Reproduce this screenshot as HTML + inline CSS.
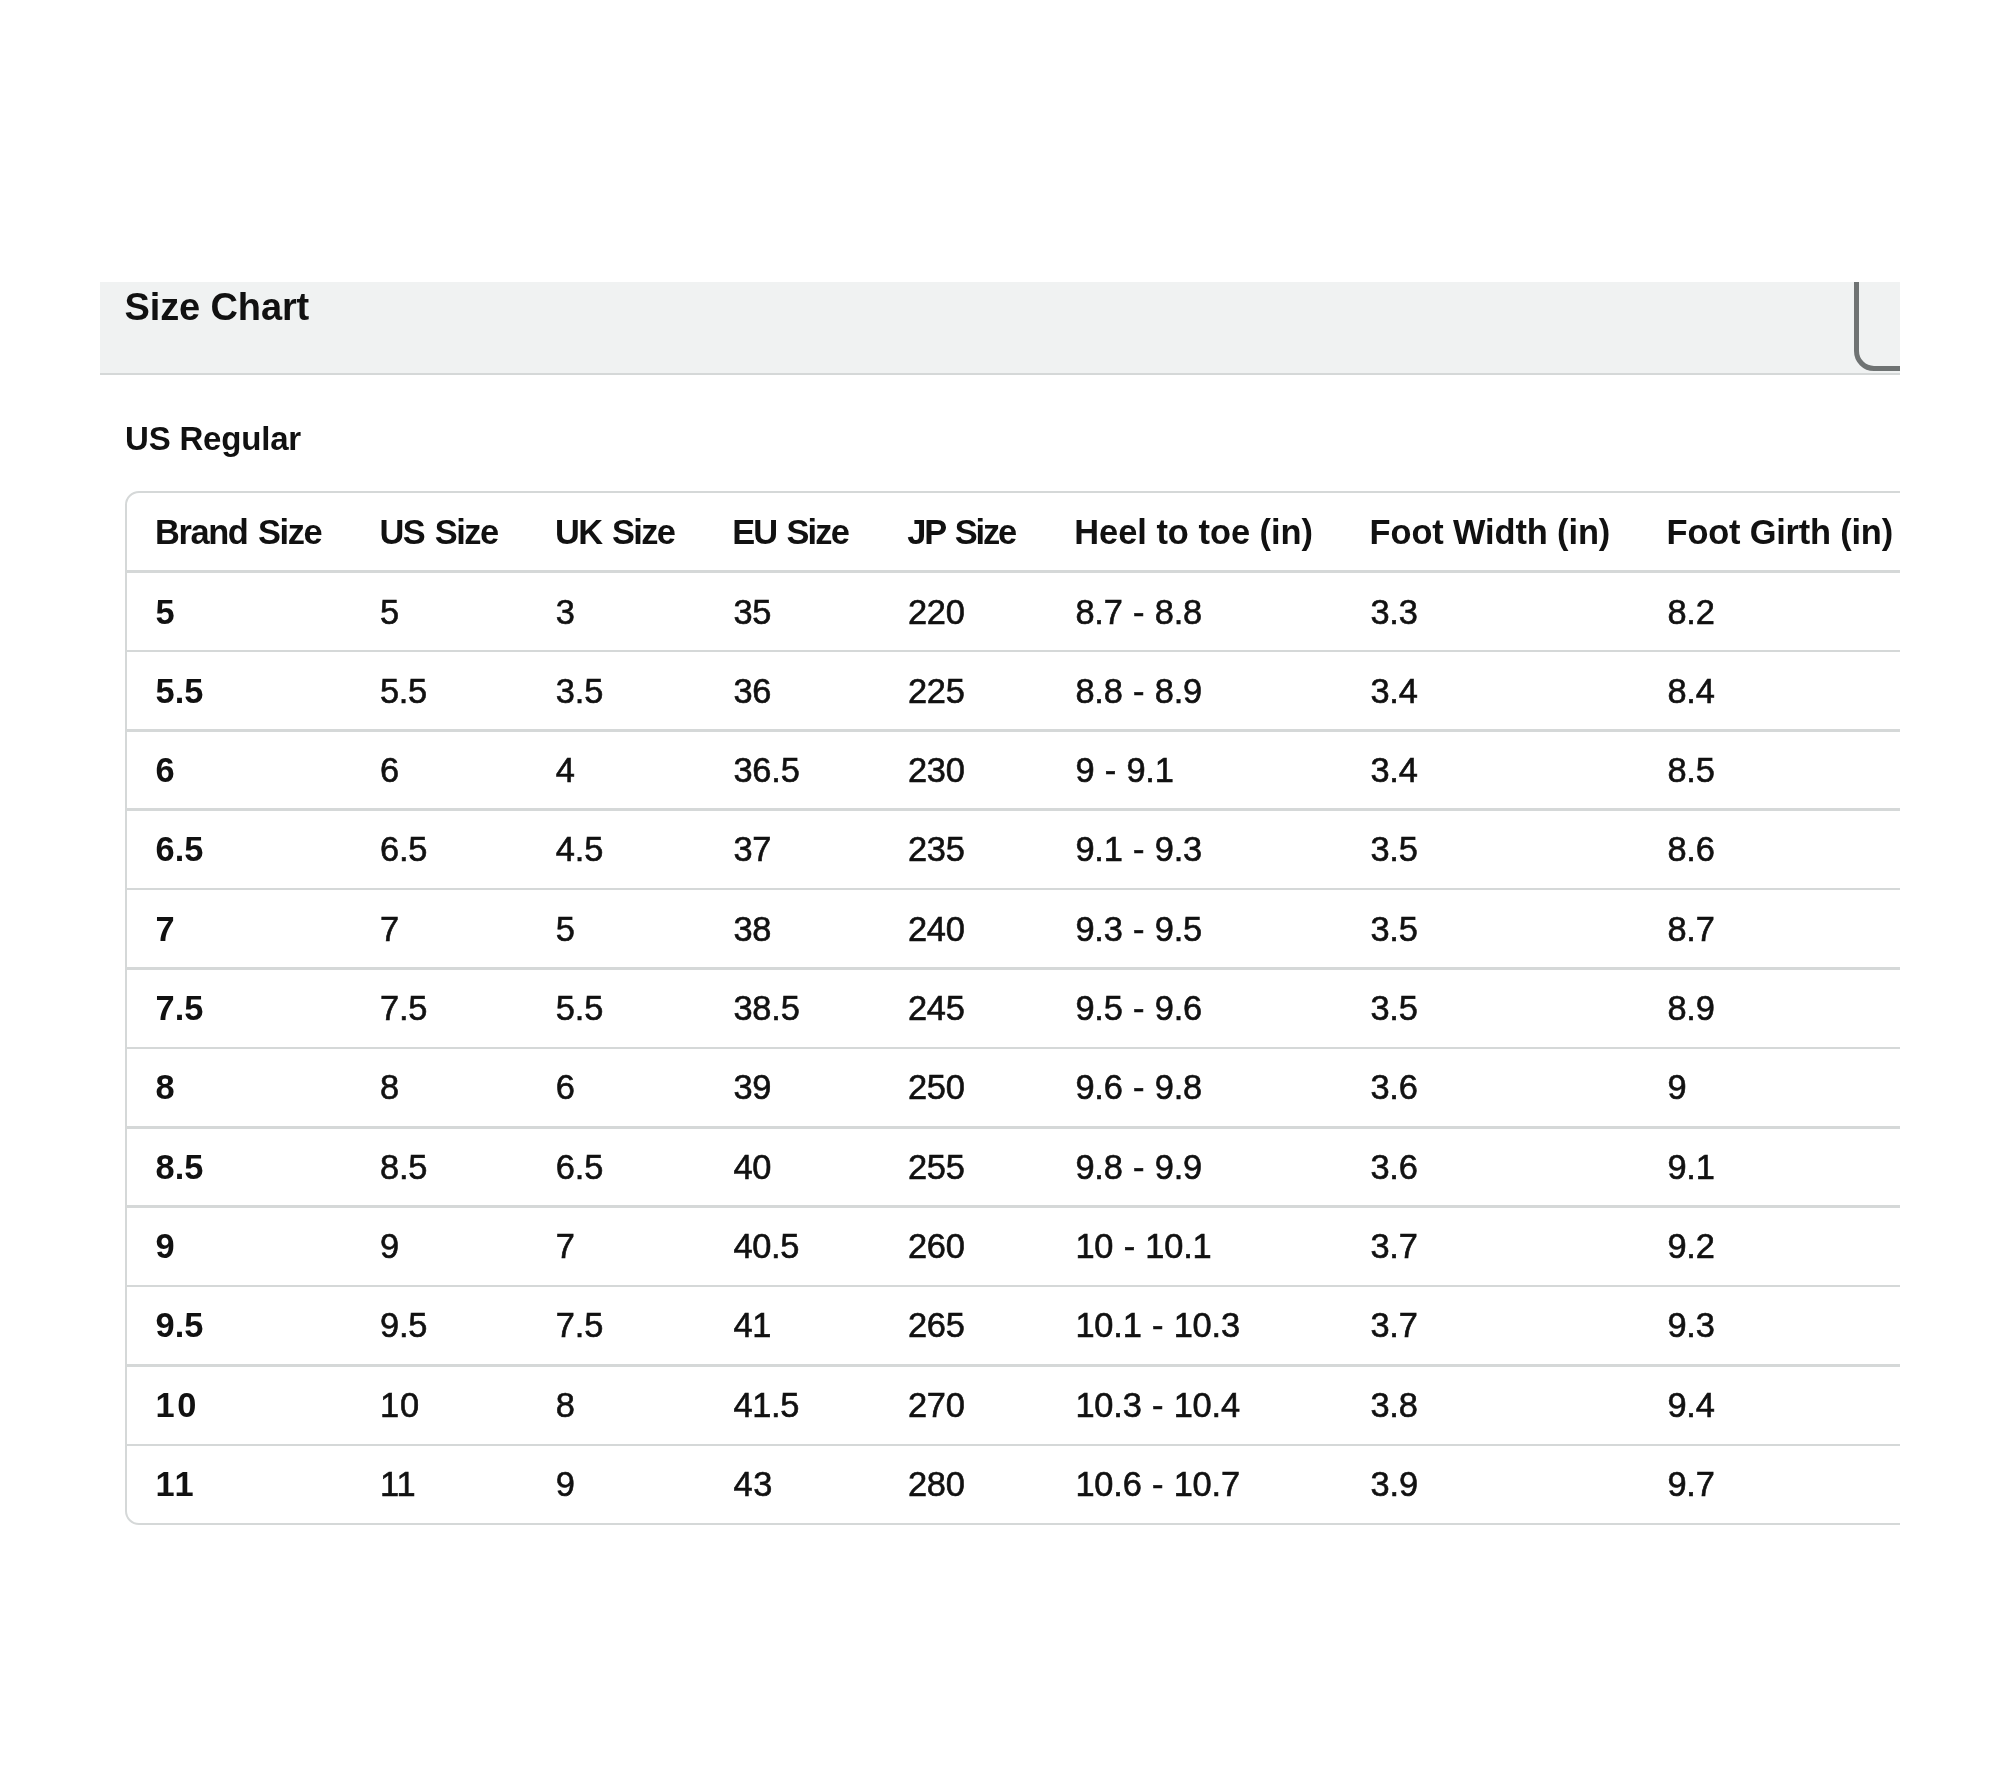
<!DOCTYPE html><html><head><meta charset='utf-8'><title>Size Chart</title><style>
*{margin:0;padding:0;box-sizing:border-box}
html,body{width:2000px;height:1778px;background:#fff;overflow:hidden}
body{position:relative;font-family:'Liberation Sans',Arial,sans-serif;color:#0f1111}
.clip{position:absolute;left:100px;top:282px;width:1800px;height:1300px;overflow:hidden;filter:blur(0.45px)}
.txt{position:absolute;left:0;top:0;width:1800px;height:1300px;filter:grayscale(1)}
.bar{position:absolute;left:0;top:0;width:1800px;height:93px;background:#f0f2f2;border-bottom:2.5px solid #d5d8d8}
.btn{position:absolute;left:1754px;top:-40px;width:200px;height:128.5px;border:5px solid #6f7373;border-radius:20px;background:#f0f2f2}
.tx{position:absolute;white-space:nowrap;line-height:1}
.t1{font-weight:bold;font-size:38px}
.t2{font-weight:bold;font-size:33px}
.tbl{position:absolute;left:24.5px;top:209px;width:1900px;height:1034px;border:2.5px solid #d5d8d8;border-radius:14px}
.sep{position:absolute;left:24.5px;width:1900px;height:2.5px;background:#d5d8d8}
.h{font-weight:bold;font-size:34.4px}
.d{font-size:34.4px;letter-spacing:-0.176px;word-spacing:1.0px;-webkit-text-stroke:0.6px #0f1111}
.b{font-weight:bold;font-size:34.4px;letter-spacing:0.03px}
</style></head><body>
<div class='clip'>
<div class='bar'><div class='btn'></div></div>
<div class='tbl'></div>
<div class='sep' style='top:288.25px'></div>
<div class='sep' style='top:367.65px'></div>
<div class='sep' style='top:447.05px'></div>
<div class='sep' style='top:526.45px'></div>
<div class='sep' style='top:605.85px'></div>
<div class='sep' style='top:685.25px'></div>
<div class='sep' style='top:764.65px'></div>
<div class='sep' style='top:844.05px'></div>
<div class='sep' style='top:923.45px'></div>
<div class='sep' style='top:1002.85px'></div>
<div class='sep' style='top:1082.25px'></div>
<div class='sep' style='top:1161.65px'></div>
<div class='txt'>
<div class='tx t1' style='left:24.5px;top:6px;letter-spacing:-0.124px'>Size Chart</div>
<div class='tx t2' style='left:25px;top:140px;letter-spacing:-0.194px'>US Regular</div>
<div class='tx h' style='left:55.00px;top:232.80px;letter-spacing:-1.401px;word-spacing:2.5px'>Brand Size</div>
<div class='tx h' style='left:279.40px;top:232.80px;letter-spacing:-1.468px;word-spacing:2.5px'>US Size</div>
<div class='tx h' style='left:455.00px;top:232.80px;letter-spacing:-1.599px;word-spacing:2.5px'>UK Size</div>
<div class='tx h' style='left:632.20px;top:232.80px;letter-spacing:-1.833px;word-spacing:2.5px'>EU Size</div>
<div class='tx h' style='left:807.20px;top:232.80px;letter-spacing:-2.133px;word-spacing:3px'>JP Size</div>
<div class='tx h' style='left:974.20px;top:232.80px;letter-spacing:0.003px;word-spacing:0px'>Heel to toe (in)</div>
<div class='tx h' style='left:1269.60px;top:232.80px;letter-spacing:-0.113px;word-spacing:0px'>Foot Width (in)</div>
<div class='tx h' style='left:1566.60px;top:232.80px;letter-spacing:-0.191px;word-spacing:0px'>Foot Girth (in)</div>
<div class='tx b' style='left:55.60px;top:312.50px'>5</div>
<div class='tx d' style='left:280.00px;top:312.50px'>5</div>
<div class='tx d' style='left:455.80px;top:312.50px'>3</div>
<div class='tx d' style='left:633.40px;top:312.50px'>35</div>
<div class='tx d' style='left:807.90px;top:312.50px;letter-spacing:-0.241px'>220</div>
<div class='tx d' style='left:975.40px;top:312.50px'>8.7 - 8.8</div>
<div class='tx d' style='left:1270.40px;top:312.50px'>3.3</div>
<div class='tx d' style='left:1567.40px;top:312.50px'>8.2</div>
<div class='tx b' style='left:55.60px;top:391.82px;letter-spacing:0.03px'>5.5</div>
<div class='tx d' style='left:280.00px;top:391.82px;letter-spacing:-0.341px'>5.5</div>
<div class='tx d' style='left:455.80px;top:391.82px'>3.5</div>
<div class='tx d' style='left:633.40px;top:391.82px'>36</div>
<div class='tx d' style='left:807.90px;top:391.82px'>225</div>
<div class='tx d' style='left:975.40px;top:391.82px'>8.8 - 8.9</div>
<div class='tx d' style='left:1270.40px;top:391.82px'>3.4</div>
<div class='tx d' style='left:1567.40px;top:391.82px'>8.4</div>
<div class='tx b' style='left:55.60px;top:471.14px'>6</div>
<div class='tx d' style='left:280.00px;top:471.14px'>6</div>
<div class='tx d' style='left:455.80px;top:471.14px'>4</div>
<div class='tx d' style='left:633.40px;top:471.14px'>36.5</div>
<div class='tx d' style='left:807.90px;top:471.14px'>230</div>
<div class='tx d' style='left:975.40px;top:471.14px'>9 - 9.1</div>
<div class='tx d' style='left:1270.40px;top:471.14px'>3.4</div>
<div class='tx d' style='left:1567.40px;top:471.14px'>8.5</div>
<div class='tx b' style='left:55.60px;top:550.46px'>6.5</div>
<div class='tx d' style='left:280.00px;top:550.46px'>6.5</div>
<div class='tx d' style='left:455.80px;top:550.46px'>4.5</div>
<div class='tx d' style='left:633.40px;top:550.46px'>37</div>
<div class='tx d' style='left:807.90px;top:550.46px'>235</div>
<div class='tx d' style='left:975.40px;top:550.46px'>9.1 - 9.3</div>
<div class='tx d' style='left:1270.40px;top:550.46px'>3.5</div>
<div class='tx d' style='left:1567.40px;top:550.46px'>8.6</div>
<div class='tx b' style='left:55.60px;top:629.78px'>7</div>
<div class='tx d' style='left:280.00px;top:629.78px'>7</div>
<div class='tx d' style='left:455.80px;top:629.78px'>5</div>
<div class='tx d' style='left:633.40px;top:629.78px'>38</div>
<div class='tx d' style='left:807.90px;top:629.78px'>240</div>
<div class='tx d' style='left:975.40px;top:629.78px'>9.3 - 9.5</div>
<div class='tx d' style='left:1270.40px;top:629.78px'>3.5</div>
<div class='tx d' style='left:1567.40px;top:629.78px'>8.7</div>
<div class='tx b' style='left:55.60px;top:709.10px'>7.5</div>
<div class='tx d' style='left:280.00px;top:709.10px'>7.5</div>
<div class='tx d' style='left:455.80px;top:709.10px'>5.5</div>
<div class='tx d' style='left:633.40px;top:709.10px'>38.5</div>
<div class='tx d' style='left:807.90px;top:709.10px'>245</div>
<div class='tx d' style='left:975.40px;top:709.10px'>9.5 - 9.6</div>
<div class='tx d' style='left:1270.40px;top:709.10px'>3.5</div>
<div class='tx d' style='left:1567.40px;top:709.10px'>8.9</div>
<div class='tx b' style='left:55.60px;top:788.42px'>8</div>
<div class='tx d' style='left:280.00px;top:788.42px'>8</div>
<div class='tx d' style='left:455.80px;top:788.42px'>6</div>
<div class='tx d' style='left:633.40px;top:788.42px'>39</div>
<div class='tx d' style='left:807.90px;top:788.42px'>250</div>
<div class='tx d' style='left:975.40px;top:788.42px'>9.6 - 9.8</div>
<div class='tx d' style='left:1270.40px;top:788.42px'>3.6</div>
<div class='tx d' style='left:1567.40px;top:788.42px'>9</div>
<div class='tx b' style='left:55.60px;top:867.74px'>8.5</div>
<div class='tx d' style='left:280.00px;top:867.74px'>8.5</div>
<div class='tx d' style='left:455.80px;top:867.74px'>6.5</div>
<div class='tx d' style='left:633.40px;top:867.74px'>40</div>
<div class='tx d' style='left:807.90px;top:867.74px'>255</div>
<div class='tx d' style='left:975.40px;top:867.74px'>9.8 - 9.9</div>
<div class='tx d' style='left:1270.40px;top:867.74px'>3.6</div>
<div class='tx d' style='left:1567.40px;top:867.74px'>9.1</div>
<div class='tx b' style='left:55.60px;top:947.06px'>9</div>
<div class='tx d' style='left:280.00px;top:947.06px'>9</div>
<div class='tx d' style='left:455.80px;top:947.06px'>7</div>
<div class='tx d' style='left:633.40px;top:947.06px;letter-spacing:-0.308px'>40.5</div>
<div class='tx d' style='left:807.90px;top:947.06px'>260</div>
<div class='tx d' style='left:975.40px;top:947.06px'>10 - 10.1</div>
<div class='tx d' style='left:1270.40px;top:947.06px'>3.7</div>
<div class='tx d' style='left:1567.40px;top:947.06px'>9.2</div>
<div class='tx b' style='left:55.60px;top:1026.38px'>9.5</div>
<div class='tx d' style='left:280.00px;top:1026.38px'>9.5</div>
<div class='tx d' style='left:455.80px;top:1026.38px'>7.5</div>
<div class='tx d' style='left:633.40px;top:1026.38px'>41</div>
<div class='tx d' style='left:807.90px;top:1026.38px'>265</div>
<div class='tx d' style='left:975.40px;top:1026.38px'>10.1 - 10.3</div>
<div class='tx d' style='left:1270.40px;top:1026.38px'>3.7</div>
<div class='tx d' style='left:1567.40px;top:1026.38px'>9.3</div>
<div class='tx b' style='left:55.60px;top:1105.70px;letter-spacing:2.63px'>10</div>
<div class='tx d' style='left:280.00px;top:1105.70px;letter-spacing:0.759px'>10</div>
<div class='tx d' style='left:455.80px;top:1105.70px'>8</div>
<div class='tx d' style='left:633.40px;top:1105.70px;letter-spacing:-0.308px'>41.5</div>
<div class='tx d' style='left:807.90px;top:1105.70px'>270</div>
<div class='tx d' style='left:975.40px;top:1105.70px'>10.3 - 10.4</div>
<div class='tx d' style='left:1270.40px;top:1105.70px'>3.8</div>
<div class='tx d' style='left:1567.40px;top:1105.70px'>9.4</div>
<div class='tx b' style='left:55.60px;top:1185.02px;letter-spacing:1.63px'>11</div>
<div class='tx d' style='left:280.00px;top:1185.02px'>11</div>
<div class='tx d' style='left:455.80px;top:1185.02px'>9</div>
<div class='tx d' style='left:633.40px;top:1185.02px;letter-spacing:0.759px'>43</div>
<div class='tx d' style='left:807.90px;top:1185.02px'>280</div>
<div class='tx d' style='left:975.40px;top:1185.02px'>10.6 - 10.7</div>
<div class='tx d' style='left:1270.40px;top:1185.02px;letter-spacing:-0.041px'>3.9</div>
<div class='tx d' style='left:1567.40px;top:1185.02px'>9.7</div>
</div></div></body></html>
